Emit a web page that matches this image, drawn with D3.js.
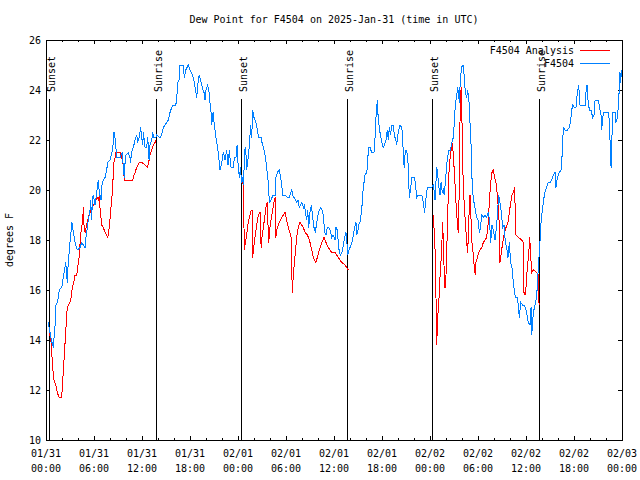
<!DOCTYPE html>
<html><head><meta charset="utf-8">
<script src="https://cdn.jsdelivr.net/npm/d3@7"></script>
<style>body{margin:0;background:#fff}svg{display:block}</style>
</head><body><svg id="c" width="640" height="480"></svg>
<script>
const startTime = "2025-01-31T00:00:00Z";
const endTime = "2025-02-03T00:00:00Z";
const titleText = "Dew Point for F4504 on 2025-Jan-31 (time in UTC)";
const yLabelText = "degrees F";
const yDomain = [10, 26];
const yTickValues = [10, 12, 14, 16, 18, 20, 22, 24, 26];
const seriesNames = ["F4504 Analysis", "F4504"];
const seriesColors = ["#ff0000", "#0080ff"];
const sunsetLabel = "Sunset", sunriseLabel = "Sunrise";
// minutes after 2025-01-31 00:00 UTC
const sunsetMinutes = [20, 1459, 2897];
const sunriseMinutes = [827, 2260, 3700];

// observed F4504 (minutes, dew point F)
const obsMinutes = [17,30,45,55,62,68,75,86,100,118,130,148,160,165,175,185,195,205,218,235,255,268,293,300,317,330,335,343,347,355,368,385,392,400,413,420,430,443,455,463,480,500,510,520,530,555,572,580,587,593,600,617,630,635,641,655,668,680,688,698,710,718,725,731,743,755,763,773,780,793,800,810,823,830,855,866,880,893,905,917,930,943,955,973,980,988,998,1005,1030,1037,1048,1058,1067,1080,1091,1105,1118,1130,1142,1150,1159,1172,1185,1193,1200,1213,1223,1230,1238,1243,1253,1262,1275,1292,1305,1318,1330,1343,1355,1365,1375,1380,1388,1403,1414,1425,1433,1442,1451,1459,1466,1474,1480,1493,1500,1505,1517,1525,1535,1543,1550,1560,1575,1585,1595,1613,1620,1630,1643,1655,1667,1675,1688,1695,1705,1718,1725,1735,1750,1760,1768,1775,1793,1810,1826,1835,1843,1850,1860,1871,1880,1890,1900,1909,1920,1931,1939,1945,1955,1963,1970,1980,1990,2000,2010,2020,2030,2040,2050,2060,2070,2080,2090,2100,2110,2120,2130,2143,2153,2168,2175,2185,2192,2200,2210,2220,2230,2240,2250,2258,2263,2273,2280,2295,2305,2315,2325,2330,2340,2350,2355,2368,2375,2380,2393,2405,2413,2417,2430,2443,2460,2468,2475,2485,2492,2505,2518,2530,2539,2550,2560,2567,2575,2584,2593,2605,2612,2623,2630,2642,2655,2668,2675,2680,2687,2695,2705,2715,2725,2735,2745,2760,2770,2780,2790,2818,2830,2840,2848,2860,2893,2905,2912,2918,2930,2938,2942,2955,2963,2972,2980,2987,2995,3005,3015,3023,3034,3043,3055,3062,3070,3080,3088,3094,3100,3105,3113,3122,3130,3137,3145,3155,3163,3173,3180,3188,3193,3200,3210,3223,3230,3240,3250,3259,3268,3280,3293,3305,3317,3326,3335,3345,3355,3368,3380,3395,3405,3415,3425,3435,3445,3455,3465,3475,3485,3495,3505,3520,3533,3542,3550,3560,3574,3585,3595,3605,3617,3630,3638,3643,3655,3668,3675,3685,3695,3700,3710,3718,3730,3740,3755,3767,3780,3793,3805,3818,3825,3835,3850,3863,3868,3875,3880,3893,3910,3925,3935,3943,3950,3964,3975,3985,3995,4005,4030,4043,4050,4058,4063,4075,4088,4100,4110,4118,4142,4155,4163,4168,4175,4185,4217,4225,4230,4238,4243,4250,4268,4275,4285,4292,4300,4305,4310,4316];
const obsDewpt = [14.7,14.3,13.9,13.7,14.2,14.6,15.4,15.5,16.0,16.1,16.5,17.1,16.3,16.9,17.6,18.2,18.7,18.3,17.9,17.6,17.7,17.9,17.7,18.1,18.8,19.2,19.6,18.8,19.6,19.8,19.4,20.1,20.4,19.9,19.6,20.2,20.4,20.5,20.8,21.1,21.2,21.6,22.3,22.0,21.3,21.3,21.5,20.9,20.5,21.1,21.4,21.5,21.3,21.1,21.5,21.7,22.0,22.2,21.9,22.1,22.5,22.1,21.8,22.3,21.7,21.7,22.1,21.2,21.8,22.0,22.3,22.1,22.1,22.2,22.1,22.2,22.5,22.6,22.7,22.8,23.1,23.3,23.4,23.4,23.6,24.3,24.4,25.0,25.0,24.5,24.8,24.9,25.0,24.8,24.7,24.5,24.1,23.7,24.4,24.6,24.4,24.1,23.9,23.6,24.0,24.2,23.9,23.5,23.1,22.6,23.1,22.6,22.1,21.5,20.8,21.1,21.5,21.2,21.6,21.0,21.6,21.3,20.9,20.9,21.3,21.3,21.8,20.9,20.5,20.9,20.3,20.5,20.2,21.7,21.4,20.8,21.3,21.8,22.6,22.1,23.2,22.9,22.7,22.4,22.1,22.1,21.9,21.7,21.4,20.9,20.3,19.5,19.6,19.7,19.8,19.8,20.5,20.7,20.8,20.5,20.2,19.8,19.8,19.7,19.7,19.9,20.0,19.8,19.7,19.6,19.5,19.6,19.3,19.4,19.5,19.3,19.4,19.1,18.8,19.2,18.5,19.1,19.4,18.9,18.5,18.3,18.7,19.0,19.2,19.3,19.2,19.0,18.3,18.2,18.5,18.5,18.4,18.1,18.2,18.0,18.5,18.4,17.9,17.5,17.4,17.5,17.8,18.1,18.3,17.8,17.4,17.6,17.7,17.9,18.2,18.5,18.7,18.2,18.4,18.7,18.7,19.2,19.8,20.1,20.6,20.7,21.0,21.7,21.7,21.5,21.5,22.1,22.9,23.6,22.8,22.3,21.9,21.7,21.8,22.0,22.4,22.0,22.5,22.2,22.6,22.6,22.2,22.0,21.8,22.3,22.6,22.5,22.2,21.3,20.9,21.6,21.6,21.1,19.7,20.1,20.5,20.5,20.3,19.7,19.8,19.8,19.5,19.1,19.6,20.1,20.1,20.2,19.9,19.6,20.9,20.7,20.3,19.8,20.3,19.9,20.0,19.8,20.3,21.0,21.4,21.6,21.6,21.9,22.1,22.7,23.4,23.8,24.1,23.8,23.5,24.1,24.7,25.0,25.0,24.5,23.9,23.7,24.0,23.5,22.7,21.8,20.7,19.9,19.5,19.1,18.9,18.8,18.3,18.5,19.0,18.9,19.0,18.9,19.1,18.8,17.9,18.6,18.4,18.0,18.6,19.8,19.5,19.1,18.5,18.6,17.9,17.7,17.3,17.9,17.1,16.9,16.3,15.7,15.7,15.4,14.9,15.5,15.4,15.4,15.3,15.1,14.7,14.6,15.3,14.2,15.1,15.4,15.6,16.1,17.2,17.4,18.5,19.0,19.5,19.9,20.1,20.3,20.3,20.4,20.6,20.7,20.1,20.5,20.7,20.8,21.1,21.9,22.5,22.4,22.4,22.5,22.8,23.2,23.4,23.3,23.3,23.9,24.2,23.4,23.4,23.4,23.9,24.2,23.7,23.2,23.2,22.9,23.0,23.6,23.6,23.2,23.0,22.4,22.9,23.1,23.1,22.8,22.0,20.9,21.8,23.1,23.1,22.7,22.9,23.3,24.1,24.7,24.3,24.8];

// analysis (nights only; null = gap)
const anaMinutes = [26,38,43,50,60,73,85,98,113,120,128,135,143,150,155,167,180,188,197,208,218,230,238,248,253,260,265,275,280,285,293,305,317,330,343,355,375,385,394,400,405,410,418,430,443,455,463,470,478,485,493,500,505,510,518,525,555,568,580,587,650,660,668,680,698,718,743,760,770,780,793,805,818,825,
 null,
 1463,1480,1485,1487,1495,1505,1517,1530,1540,1547,1550,1560,1570,1580,1590,1600,1609,1613,1620,1630,1640,1650,1658,1663,1670,1680,1690,1700,1710,1718,1723,1735,1750,1768,1780,1793,1805,1817,1830,1838,1843,1847,1855,1868,1880,1892,1905,1918,1930,1943,1960,1969,1980,1993,2005,2023,2035,2050,2068,2085,2100,2117,2143,2168,2192,2218,2243,2267,
 null,
 2906,2914,2918,2925,2930,2938,2948,2955,2963,2970,2975,2980,2985,2989,2993,3000,3005,3010,3015,3020,3025,3035,3043,3049,3055,3065,3075,3085,3092,3098,3105,3110,3115,3120,3125,3133,3140,3148,3155,3163,3170,3180,3188,3195,3205,3212,3220,3225,3235,3245,3255,3268,3280,3293,3305,3317,3325,3335,3345,3355,3365,3375,3385,3395,3400,3405,3415,3425,3435,3450,3465,3475,3485,3495,3505,3515,3523,3545,3568,3580,3585,3593,3600,3610,3620,3628,3634,3643,3655,3680,3693,3698];
const anaDewpt = [14.3,13.9,13.5,12.9,12.4,12.2,11.9,11.7,11.7,11.9,12.6,13.2,13.9,14.5,15.1,15.4,15.5,15.7,16.1,16.3,16.6,16.6,16.9,17.3,17.7,18.1,18.5,18.7,19.3,18.6,18.3,18.6,18.9,19.1,19.3,19.4,19.6,19.7,19.6,19.8,19.3,19.0,18.6,18.5,18.3,18.2,18.1,18.3,18.7,19.2,19.6,20.1,20.7,21.1,21.3,21.5,21.5,21.3,21.0,20.4,20.4,20.6,20.7,20.9,21.1,21.1,21.0,20.9,21.1,21.4,21.6,21.8,21.9,22.0,
 null,
 20.4,20.2,18.5,17.6,17.9,18.2,18.7,19.0,19.2,19.2,17.3,17.8,18.2,18.6,18.9,19.1,19.1,17.7,18.1,18.5,18.9,19.3,19.5,18.9,17.9,18.5,18.9,19.2,19.5,19.7,18.1,18.5,18.7,18.9,19.0,19.1,18.8,18.5,18.3,18.1,17.0,15.9,16.6,17.4,18.1,18.5,18.7,18.6,18.5,18.3,18.2,18.1,17.9,17.6,17.3,17.1,17.3,17.6,17.9,18.1,17.9,17.7,17.5,17.5,17.3,17.1,17.0,16.8,
 null,
 19.0,18.0,17.6,15.7,13.8,14.9,15.7,16.5,17.2,18.0,18.7,17.9,17.0,16.1,16.1,16.6,17.5,18.4,19.4,20.3,21.1,21.4,21.9,21.8,21.4,20.5,19.5,18.7,18.3,19.7,22.7,23.9,24.1,22.7,21.0,19.8,19.1,18.5,17.9,17.5,18.7,19.8,18.8,17.9,17.4,16.9,16.6,17.1,17.3,17.5,17.6,17.7,17.9,18.0,18.1,18.7,19.5,20.3,20.7,20.8,20.5,20.3,19.8,19.1,18.5,17.1,17.5,17.9,18.2,18.5,18.7,19.1,19.5,19.8,19.9,20.1,18.2,18.1,18.0,17.9,15.9,15.8,16.1,16.9,17.4,18.1,17.5,16.7,16.8,16.7,16.6,15.4];

const FONT = "'DejaVu Sans Mono', 'Liberation Mono', monospace";
const svg = d3.select("#c");
const L = 46, R = 622, T = 40, B = 440;
const t0 = new Date(startTime), t1 = new Date(endTime);
const toDate = m => new Date(t0.getTime() + m * 60000);
const x = d3.scaleUtc().domain([t0, t1]).range([L, R]);
const y = d3.scaleLinear().domain(yDomain).range([B, T]);

svg.append("rect").attr("width", 640).attr("height", 480).attr("fill", "#fff");

const g = svg.append("g").attr("shape-rendering", "crispEdges");

// ticks (inward, mirrored)
const minorTicks = x.ticks(d3.utcHour.every(2));
const majorTicks = x.ticks(d3.utcHour.every(6));
const isMajor = d => d.getUTCHours() % 6 === 0;
minorTicks.forEach(d => {
  const len = isMajor(d) ? 4 : 2;
  const xx = Math.round(x(d)) + 0.5;
  g.append("line").attr("x1", xx).attr("x2", xx).attr("y1", B).attr("y2", B - len).attr("stroke", "#000");
  g.append("line").attr("x1", xx).attr("x2", xx).attr("y1", T).attr("y2", T + len).attr("stroke", "#000");
});
yTickValues.forEach(v => {
  const yy = Math.round(y(v)) + 0.5;
  g.append("line").attr("x1", L).attr("x2", L + 4).attr("y1", yy).attr("y2", yy).attr("stroke", "#000");
  g.append("line").attr("x1", R).attr("x2", R - 4).attr("y1", yy).attr("y2", yy).attr("stroke", "#000");
});

// sun lines
const sunEvents = sunsetMinutes.map(m => ({m, label: sunsetLabel}))
  .concat(sunriseMinutes.map(m => ({m, label: sunriseLabel})));
sunEvents.forEach(e => {
  const xx = Math.round(x(toDate(e.m))) + 0.5;
  g.append("line").attr("x1", xx).attr("x2", xx).attr("y1", 99).attr("y2", B).attr("stroke", "#000");
  svg.append("text").attr("transform", `translate(${xx + 5},92) rotate(-90)`)
    .attr("text-anchor", "start").attr("font-family", FONT).attr("font-size", 10)
    .attr("fill", "#000").text(e.label);
});

// series
const obs = obsMinutes.map((m, i) => ({t: toDate(m), v: obsDewpt[i]}));
const ana = anaMinutes.map((m, i) => ({t: m == null ? null : toDate(m), v: anaDewpt[i]}));
const line = d3.line().defined(d => d.t != null && d.v != null).x(d => x(d.t)).y(d => y(d.v));
g.append("path").datum(ana).attr("d", line).attr("fill", "none").attr("stroke", seriesColors[0]).attr("stroke-width", 1);
g.append("path").datum(obs).attr("d", line).attr("fill", "none").attr("stroke", seriesColors[1]).attr("stroke-width", 1);

// frame
g.append("rect").attr("x", L + 0.5).attr("y", T + 0.5).attr("width", R - L).attr("height", B - T)
  .attr("fill", "none").attr("stroke", "#000");

// labels
const txt = (xx, yy, s, anchor) => svg.append("text").attr("x", xx).attr("y", yy)
  .attr("text-anchor", anchor || "middle").attr("font-family", FONT).attr("font-size", 10).attr("fill", "#000").text(s);
txt(334, 23, titleText);
yTickValues.forEach(v => txt(41, y(v) + 4, String(v), "end"));
const fmtD = d3.utcFormat("%m/%d"), fmtH = d3.utcFormat("%H:%M");
majorTicks.forEach(d => {
  txt(x(d), 457, fmtD(d));
  txt(x(d), 472, fmtH(d));
});
svg.append("text").attr("transform", "translate(13,240) rotate(-90)").attr("text-anchor", "middle")
  .attr("font-family", FONT).attr("font-size", 10).attr("fill", "#000").text(yLabelText);

// legend
seriesNames.forEach((name, i) => {
  const yy = 50 + i * 13;
  txt(574, yy + 4, name, "end");
  g.append("line").attr("x1", 580).attr("x2", 610).attr("y1", yy + 0.5).attr("y2", yy + 0.5)
    .attr("stroke", seriesColors[i]);
});
</script></body></html>
